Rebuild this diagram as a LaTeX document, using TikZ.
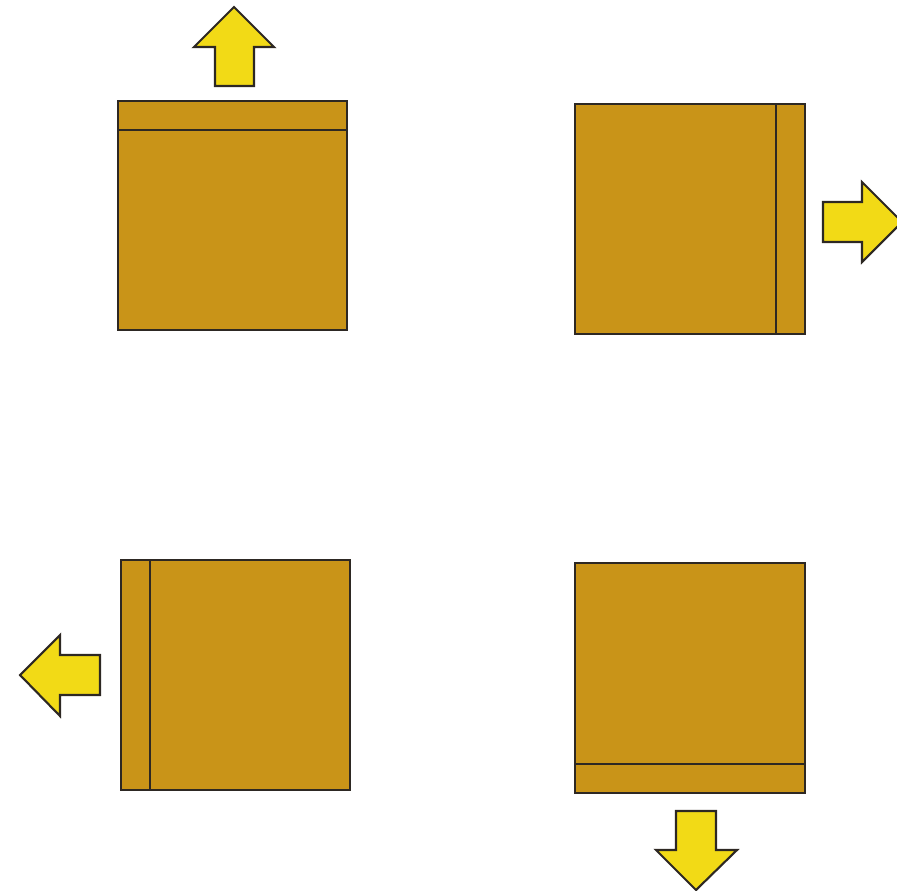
\documentclass[tikz,border=0pt]{standalone}
\usepackage{tikz}
\definecolor{boxbrown}{RGB}{201,148,24}
\definecolor{arrowyellow}{RGB}{242,218,22}
\definecolor{edgegray}{RGB}{45,40,35}
\begin{document}
\begin{tikzpicture}[x=0.03cm, y=-0.03cm, line join=miter,
  box/.style={line width=1.8pt, draw=edgegray, fill=boxbrown},
  band/.style={line width=1.8pt, draw=edgegray},
  yarrow/.style={line width=1.8pt, draw=edgegray, fill=arrowyellow}]
\useasboundingbox (0,0) rectangle (897,890);
\begin{scope}
\clip (0,0) rectangle (897,890);
% top left: band on top, arrow up
\draw[box] (118,101) rectangle (347,330);
\draw[band] (118,130) -- (347,130);
\draw[yarrow] (215,86) -- (215,47) -- (194,47) -- (234,7) -- (274,47) -- (254,47) -- (254,86) -- cycle;
% top right: band on right, arrow right
\draw[box] (575,104) rectangle (805,334);
\draw[band] (776,104) -- (776,334);
\draw[yarrow] (823,202) -- (862,202) -- (862,182) -- (902,222) -- (862,262) -- (862,242) -- (823,242) -- cycle;
% bottom left: band on left, arrow left
\draw[box] (121,560) rectangle (350,790);
\draw[band] (150,560) -- (150,790);
\draw[yarrow] (100,655) -- (60,655) -- (60,635) -- (20,675) -- (60,716) -- (60,695) -- (100,695) -- cycle;
% bottom right: band at bottom, arrow down
\draw[box] (575,563) rectangle (805,793);
\draw[band] (575,764) -- (805,764);
\draw[yarrow] (676,811) -- (716,811) -- (716,850) -- (737,850) -- (696,890) -- (656,850) -- (676,850) -- cycle;
\end{scope}
\end{tikzpicture}
\end{document}
